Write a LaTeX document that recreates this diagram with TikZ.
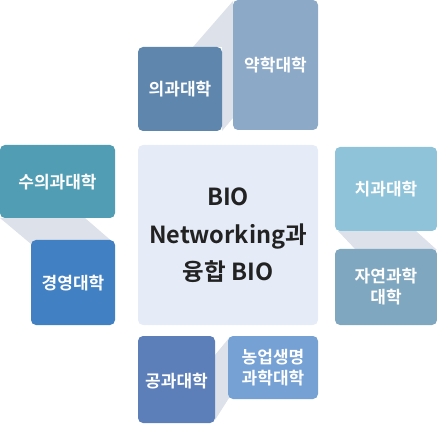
\documentclass[tikz,border=0pt]{standalone}
\usepackage{fontspec}
\setmainfont{Noto Sans CJK KR}[BoldFont={Noto Sans CJK KR Bold}]
\newfontfamily\krb{Noto Sans CJK KR Bold}
\definecolor{cUi}{HTML}{5F86AD}
\definecolor{cYak}{HTML}{8CA9C8}
\definecolor{cSu}{HTML}{509DB4}
\definecolor{cGy}{HTML}{4180C2}
\definecolor{cChi}{HTML}{8EC3D9}
\definecolor{cJa}{HTML}{80A7C0}
\definecolor{cGong}{HTML}{5C7FBA}
\definecolor{cNong}{HTML}{76A1D4}
\definecolor{cCenter}{HTML}{E5ECF7}
\definecolor{cBand}{HTML}{DCE1EA}
\definecolor{cText}{HTML}{222222}
\begin{document}
\begin{tikzpicture}[x=1pt,y=-1pt,
  college/.style={rounded corners=5pt},
  lbl/.style={text=white,font=\krb\fontsize{17}{21}\selectfont,align=center,inner sep=0pt},
  band/.style={fill=cBand,draw=none}]
\useasboundingbox (0,0) rectangle (437,425);
% bands
\fill[band] (193,47) -- (233,1) -- (233,118) -- (222,131) -- (222,47) -- cycle;
\fill[band] (0,218) -- (85,218) -- (115,244) -- (31,244) -- cycle;
\fill[band] (338,231) -- (416,231) -- (437,250) -- (356,250) -- cycle;
\fill[band] (215,355) -- (229,338) -- (229,398) -- (215,420) -- cycle;
% center
\fill[cCenter,rounded corners=5pt] (138,145) rectangle (318,325);
\node[text=cText,font=\krb\fontsize{23.5}{37.5}\selectfont,align=center,inner sep=0pt] (center) at (228,235.5) {BIO\\Networking과\\융합 BIO};
% boxes
\fill[cUi,college] (138,47) rectangle (222,131);
\node[lbl] (ui) at (180,89) {의과대학};
\fill[cYak,college] (233,0) rectangle (318,130);
\node[lbl] (yak) at (275.5,65) {약학대학};
\fill[cSu,college] (0,145) rectangle (115,218);
\node[lbl] (su) at (57.5,182) {수의과대학};
\fill[cGy,college] (31,240) rectangle (115,325);
\node[lbl] (gy) at (73,283) {경영대학};
\fill[cChi,college] (335,147) rectangle (437,231);
\node[lbl] (chi) at (386,189) {치과대학};
\fill[cJa,college] (335,249) rectangle (437,325);
\node[lbl] (ja) at (386,287) {자연과학\\대학};
\fill[cGong,college] (138,336) rectangle (215,423);
\node[lbl] (gong) at (176.5,381) {공과대학};
\fill[cNong,college] (228,336) rectangle (318,399);
\node[lbl] (nong) at (273,367.5) {농업생명\\과학대학};
\end{tikzpicture}
\end{document}
